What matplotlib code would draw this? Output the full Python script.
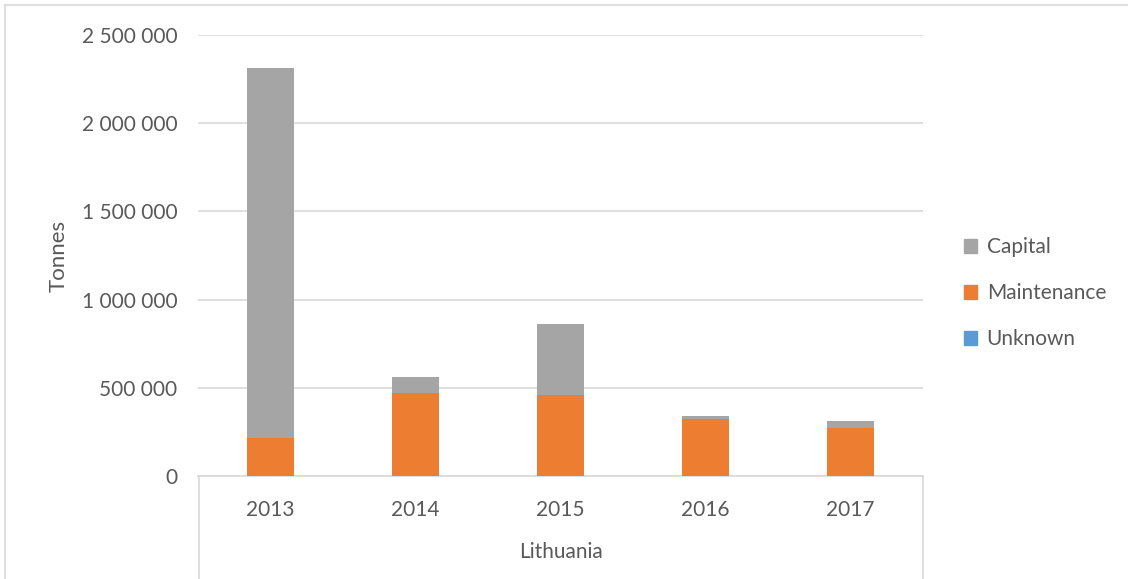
import numpy as np
import matplotlib.pyplot as plt
from matplotlib.lines import Line2D
from matplotlib.patches import Patch

# DATOS
anios = ["2013", "2014", "2015", "2016", "2017"]
unknown = [0, 0, 0, 0, 0]
maintenance = [214000, 471000, 462000, 322000, 273000]
capital = [2097000, 90000, 398000, 16000, 36000]

col_capital = "#a5a5a5"
col_maint = "#ed7d31"
col_unknown = "#5b9bd5"
gris_texto = "#595959"
gris_linea = "#d9d9d9"

plt.rcParams['font.family'] = ['Lato', 'DejaVu Sans']
tam = 15

fig = plt.figure(figsize=(11.28, 5.79), dpi=100)
W, H = 1128, 579
ax = fig.add_axes([198 / W, 1 - 476 / H, (923 - 198) / W, (476 - 35) / H])

x = np.arange(len(anios))
ancho = 0.32
b_unknown = np.array(unknown)
b_maint = b_unknown + np.array(maintenance)

ax.bar(x, unknown, ancho, color=col_unknown, zorder=3)
ax.bar(x, maintenance, ancho, bottom=b_unknown, color=col_maint, zorder=3)
ax.bar(x, capital, ancho, bottom=b_maint, color=col_capital, zorder=3)

ax.set_xlim(-0.5, len(anios) - 0.5)
ax.set_ylim(0, 2500000)
ticks_y = np.arange(0, 2500001, 500000)
ax.set_yticks(ticks_y)
ax.set_yticklabels([f"{int(v):,}".replace(",", " ") for v in ticks_y])
ax.yaxis.grid(True, color=gris_linea, linewidth=1.2, zorder=0)
ax.tick_params(axis='y', length=0, pad=15, labelsize=tam, labelcolor=gris_texto)
ax.tick_params(axis='x', length=0, pad=17, labelsize=tam, labelcolor=gris_texto)
ax.set_xticks(x)
ax.set_xticklabels(anios)

for lado in ["top", "right", "left"]:
    ax.spines[lado].set_visible(False)
ax.spines["bottom"].set_color(gris_linea)
ax.spines["bottom"].set_linewidth(1.2)

ax.set_ylabel("Tonnes", fontsize=16, color=gris_texto, labelpad=9)

# EJE DE CATEGORIAS MULTINIVEL
for xp in [199, 923]:
    fig.add_artist(Line2D([xp / W, xp / W], [1 - 476 / H, 0], color=gris_linea, linewidth=1.2))
fig.text((199 + 923) / 2 / W, 1 - 552 / H, "Lithuania", ha="center", va="center",
         fontsize=tam, color=gris_texto)

# BORDE DEL GRAFICO
fig.add_artist(Line2D([5 / W, 5 / W], [0, 1 - 5 / H], color=gris_linea, linewidth=1.2))
fig.add_artist(Line2D([5 / W, 1], [1 - 5 / H, 1 - 5 / H], color=gris_linea, linewidth=1.2))

# LEYENDA
handles = [Patch(color=col_capital, label="Capital"),
           Patch(color=col_maint, label="Maintenance"),
           Patch(color=col_unknown, label="Unknown")]
fig.legend(handles=handles, loc="center left", bbox_to_anchor=(945 / W, 1 - 293 / H),
           frameon=False, fontsize=tam, labelcolor=gris_texto, handlelength=0.65,
           handleheight=0.65, handletextpad=0.45, labelspacing=1.25)

fig.savefig("out.png", dpi=100)
